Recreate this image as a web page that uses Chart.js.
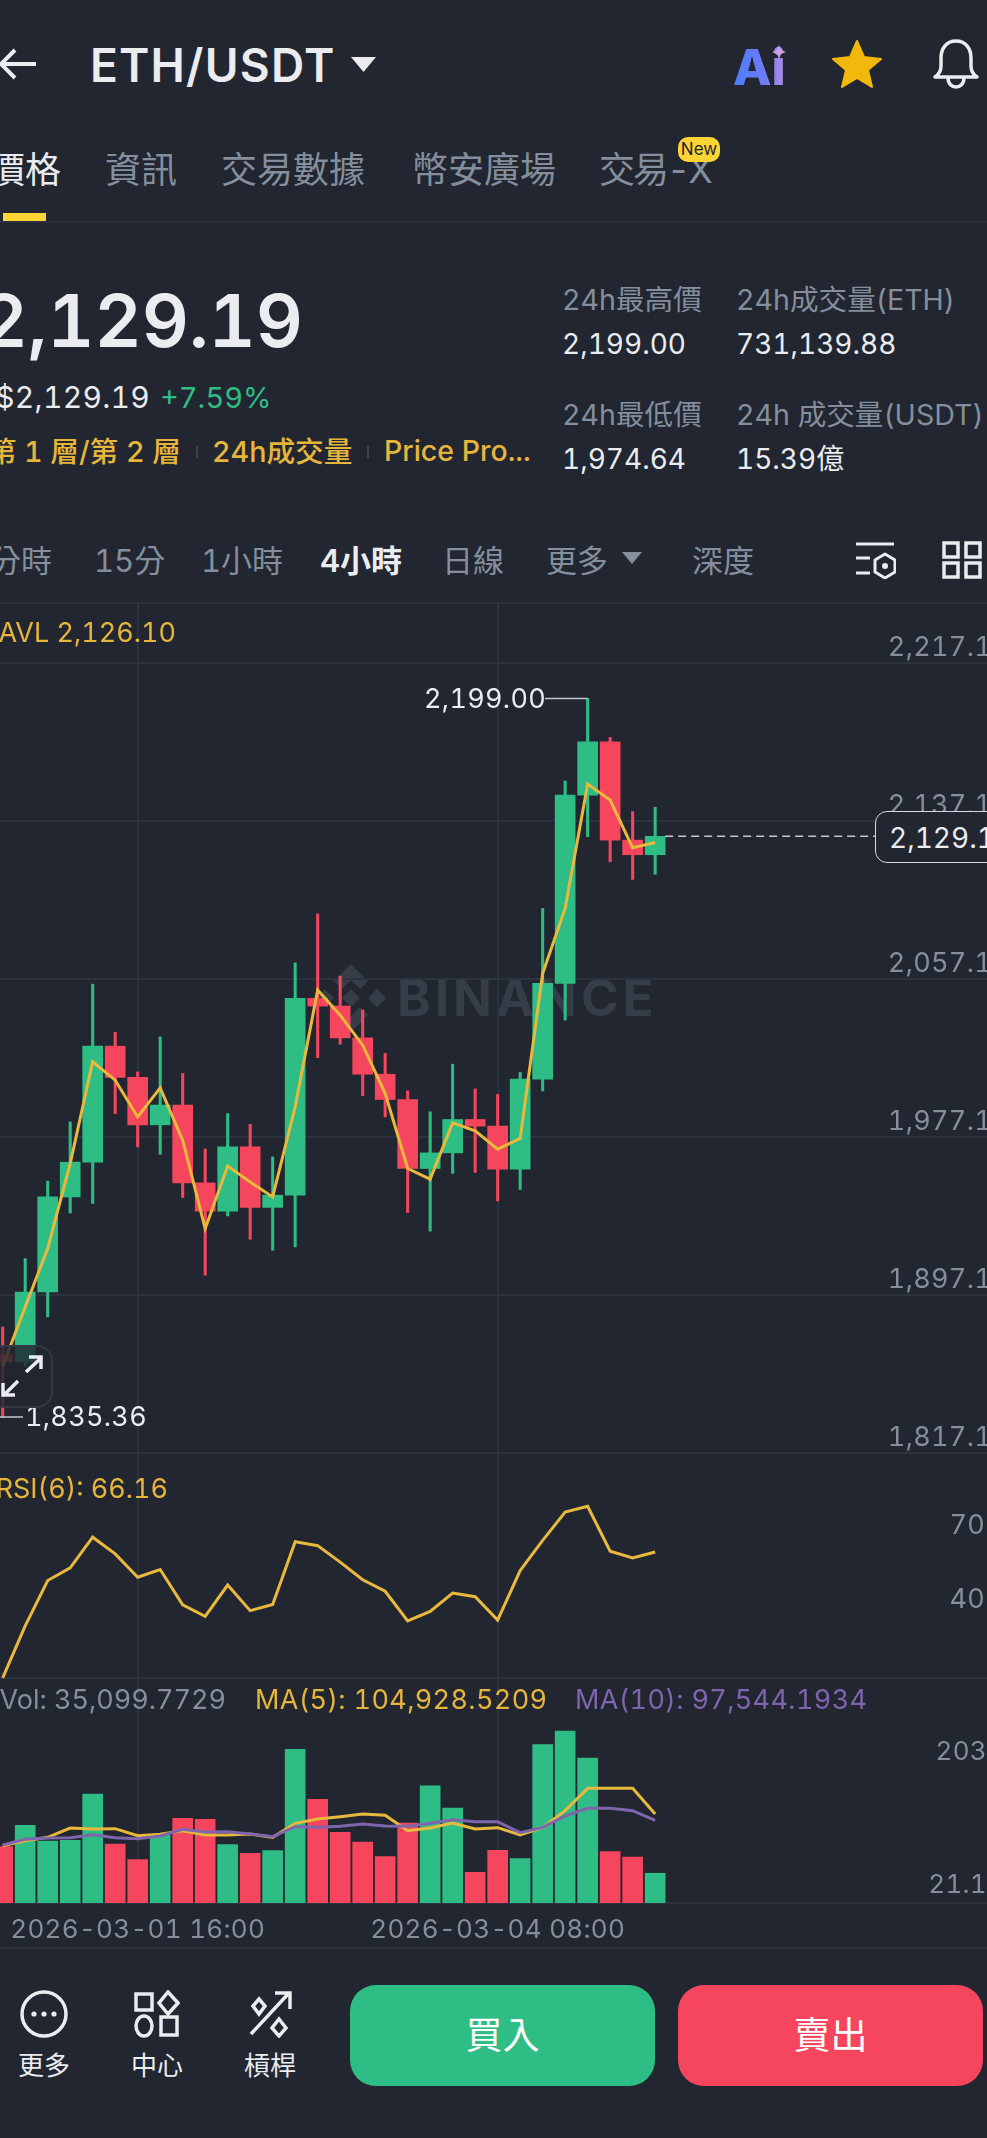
<!DOCTYPE html>
<html lang="zh-Hant">
<head>
<meta charset="utf-8">
<title>ETH/USDT</title>
<script src="https://cdn.jsdelivr.net/npm/chart.js@4"></script>
<style>
  html, body { margin: 0; padding: 0; background: #212630; overflow: hidden; }
  #page { position: relative; width: 987px; height: 2138px; overflow: hidden; background: #212630;
    font-family: Inter, "Noto Sans CJK TC", sans-serif; color: #848e9c; font-variant-numeric: tabular-nums; }
  #page > * { position: absolute; }
  .t { white-space: nowrap; line-height: 1; transform: translateY(-50%); }
  canvas { left: 0; display: block; }
  .line { left: 0; width: 987px; height: 2px; background: #2b313c; }
  .tab { font-size: 36px; color: #848e9c; }
  .iv { font-size: 31px; color: #848e9c; }
  .lab { font-size: 28.6px; color: #848e9c; }
  .val { font-size: 28px; color: #eaecef; }
  .gold { font-size: 28.7px; color: #e6b53c; font-weight: 500; }
  .ind { font-size: 27px; }
  .nav { font-size: 26px; color: #eaecef; text-align: center; width: 80px; }
  .btn { border-radius: 26px; color: #fff; font-size: 37px; text-align: center; line-height: 101px; height: 101px; width: 305px; top: 1985px; }
</style>
</head>
<body>
<div id="page">
  <!-- top bar -->
  <svg style="left:0;top:44px" width="40" height="40" viewBox="0 0 40 40" fill="none" stroke="#eaecef" stroke-width="4"><path d="M36 20H1M15 6L1 20l14 14"/></svg>
  <span class="t" style="left:90px;top:65px;font-size:46px;font-weight:600;color:#eaecef;letter-spacing:1.2px">ETH/USDT</span>
  <svg style="left:351px;top:57px" width="25" height="15"><polygon points="0,0 25,0 12.5,15" fill="#eaecef"/></svg>
  <svg style="left:733px;top:44px" width="58" height="44" viewBox="0 0 58 44">
    <defs><linearGradient id="aig" x1="0" x2="1" y1="0" y2="0"><stop offset="0" stop-color="#4d7dff"/><stop offset="0.6" stop-color="#6f7bf5"/><stop offset="1" stop-color="#b58be8"/></linearGradient></defs>
    <text x="0" y="41" font-family="Inter" font-weight="800" font-size="50" fill="url(#aig)">Ai</text>
    <path d="M46 1l2 5 5 2-5 2-2 5-2-5-5-2 5-2z" fill="#c9a0e0"/>
  </svg>
  <svg style="left:832px;top:39px" width="50" height="50" viewBox="0 0 50 50"><polygon points="25,2 32,18 49,20 36,31 40,48 25,39 10,48 14,31 1,20 18,18" fill="#f0b90b" stroke="#f0b90b" stroke-width="2" stroke-linejoin="round"/></svg>
  <svg style="left:932px;top:38px" width="48" height="52" viewBox="0 0 48 52" fill="none" stroke="#eaecef" stroke-width="3.5"><path d="M24 3c-10 0-15 8-15 17v8c0 5-3 9-6 11h42c-3-2-6-6-6-11v-8c0-9-5-17-15-17z" stroke-linejoin="round"/><path d="M16 40c0 6 4 9 8 9s8-3 8-9"/></svg>

  <!-- tabs -->
  <span class="t tab" style="left:-11px;top:170px;color:#eaecef">價格</span>
  <span class="t tab" style="left:105px;top:170px">資訊</span>
  <span class="t tab" style="left:221px;top:170px">交易數據</span>
  <span class="t tab" style="left:412px;top:170px">幣安廣場</span>
  <span class="t tab" style="left:599px;top:170px;letter-spacing:-2px">交易-X</span>
  <div style="left:678px;top:137px;width:42px;height:25px;border-radius:10px;background:#fcd535;color:#202630;font-size:17px;line-height:25px;text-align:center">New</div>
  <div style="left:3px;top:213px;width:43px;height:9px;background:#fcd535"></div>
  <div class="line" style="top:221px"></div>

  <!-- price block -->
  <span class="t" style="right:684px;top:320px;font-size:73px;font-weight:600;color:#eaecef">2,129.19</span>
  <span class="t" style="right:837px;top:397px;font-size:30px;color:#eaecef;letter-spacing:.3px">$2,129.19</span>
  <span class="t" style="left:160px;top:397px;font-size:29px;color:#2ebd85">+7.59%</span>
  <span class="t gold" style="right:806px;top:452px">第 1 層/第 2 層</span>
  <div style="left:196px;top:446px;width:2px;height:12px;background:#3a414d"></div>
  <span class="t gold" style="left:212px;top:452px">24h成交量</span>
  <div style="left:367px;top:446px;width:2px;height:12px;background:#3a414d"></div>
  <span class="t gold" style="left:384px;top:451px;font-size:28.5px">Price Pro...</span>
  <span class="t lab" style="left:562px;top:300px">24h最高價</span>
  <span class="t lab" style="left:736px;top:300px">24h成交量(ETH)</span>
  <span class="t val" style="left:562px;top:344px">2,199.00</span>
  <span class="t val" style="left:736px;top:344px">731,139.88</span>
  <span class="t lab" style="left:562px;top:415px">24h最低價</span>
  <span class="t lab" style="left:736px;top:415px">24h 成交量(USDT)</span>
  <span class="t val" style="left:562px;top:459px">1,974.64</span>
  <span class="t val" style="left:736px;top:459px">15.39億</span>

  <!-- interval row -->
  <span class="t iv" style="right:935px;top:560px">分時</span>
  <span class="t iv" style="left:94px;top:560px">15分</span>
  <span class="t iv" style="left:201px;top:560px">1小時</span>
  <span class="t iv" style="left:320px;top:560px;color:#eaecef;font-weight:600">4小時</span>
  <span class="t iv" style="left:442px;top:560px">日線</span>
  <span class="t iv" style="left:546px;top:560px">更多</span>
  <svg style="left:622px;top:552px" width="20" height="12"><polygon points="0,0 20,0 10,12" fill="#848e9c"/></svg>
  <span class="t iv" style="left:692px;top:560px">深度</span>
  <svg style="left:854px;top:541px" width="42" height="38" viewBox="0 0 42 38" fill="none" stroke="#eaecef" stroke-width="3"><path d="M2 3h38M2 17h14M2 32h14"/><path d="M31 13l10 6v12l-10 6-10-6V19z" stroke-linejoin="round"/><circle cx="31" cy="25" r="3" fill="#eaecef" stroke="none"/></svg>
  <svg style="left:942px;top:541px" width="40" height="38" viewBox="0 0 40 38" fill="none" stroke="#eaecef" stroke-width="3.5"><rect x="2" y="2" width="14" height="14"/><rect x="24" y="2" width="14" height="14"/><rect x="2" y="22" width="14" height="14"/><rect x="24" y="22" width="14" height="14"/></svg>
  <div class="line" style="top:602px"></div>

  <!-- watermark behind the charts -->
  <svg style="left:316px;top:962px" width="70" height="72" viewBox="0 0 70 72" fill="#363d48">
    <polygon points="35,2 52,19 44,27 35,18 26,27 18,19"/><polygon points="35,70 52,53 44,45 35,54 26,45 18,53"/>
    <polygon points="9,27 18,36 9,45 0,36"/><polygon points="61,27 70,36 61,45 52,36"/><polygon points="35,27 44,36 35,45 26,36"/>
  </svg>
  <span class="t" style="left:397px;top:997px;font-size:51px;font-weight:700;color:#363d48;letter-spacing:4px">BINANCE</span>

  <canvas id="priceChart" width="987" height="852" style="top:604px"></canvas>
  <canvas id="rsiChart" width="987" height="228" style="top:1453px"></canvas>
  <canvas id="volChart" width="987" height="271" style="top:1677px"></canvas>

  <span class="t ind" style="right:811px;top:632px;color:#e6b53c">AVL 2,126.10</span>
  <span class="t ind" style="right:819px;top:1488px;color:#e6b53c">RSI(6): 66.16</span>
  <span class="t ind" style="right:761px;top:1699px;color:#848e9c">Vol: 35,099.7729</span>
  <span class="t ind" style="left:255px;top:1699px;color:#e6b53c;letter-spacing:.35px">MA(5): 104,928.5209</span>
  <span class="t ind" style="left:575px;top:1699px;color:#7f65ad;letter-spacing:.35px">MA(10): 97,544.1934</span>

  <!-- last price pill -->
  <div style="left:875px;top:811px;width:140px;height:52px;box-sizing:border-box;border:1.5px solid #d5d8dc;border-radius:12px;background:#212630"></div>
  <span class="t" style="left:889px;top:838px;font-size:28px;color:#eaecef">2,129.19</span>

  <!-- expand button -->
  <div style="left:-12px;top:1345px;width:65px;height:63px;box-sizing:border-box;border:2px solid #323844;border-radius:16px;background:rgba(33,38,48,.82)"></div>
  <svg style="left:0;top:1354px" width="44" height="44" viewBox="0 0 44 44" fill="none" stroke="#eaecef" stroke-width="3.5"><path d="M26 18L41 4M29 3h12v12M18 27L4 41M3 29v12h12"/></svg>

  <div class="line" style="top:1947px"></div>

  <!-- bottom nav -->
  <svg style="left:20px;top:1990px" width="48" height="48" viewBox="0 0 48 48"><circle cx="24" cy="24" r="22" fill="none" stroke="#eaecef" stroke-width="3.5"/><circle cx="14" cy="24" r="2.6" fill="#eaecef"/><circle cx="24" cy="24" r="2.6" fill="#eaecef"/><circle cx="34" cy="24" r="2.6" fill="#eaecef"/></svg>
  <span class="t nav" style="left:4px;top:2066px">更多</span>
  <svg style="left:134px;top:1990px" width="46" height="48" viewBox="0 0 46 48" fill="none" stroke="#eaecef" stroke-width="3.5"><rect x="2" y="4" width="16" height="16"/><polygon points="34,2 44,13 34,24 25,13"/><ellipse cx="10" cy="36" rx="8" ry="10"/><rect x="27" y="27" width="16" height="18"/></svg>
  <span class="t nav" style="left:117px;top:2066px">中心</span>
  <svg style="left:249px;top:1990px" width="44" height="48" viewBox="0 0 44 48" fill="none" stroke="#eaecef" stroke-width="3.5"><path d="M2 44L40 3M26 3h15v16"/><polygon points="10,9 16,16 10,24 4,16"/><polygon points="30,29 37,38 30,46 23,38"/></svg>
  <span class="t nav" style="left:230px;top:2066px">槓桿</span>
  <div class="btn" style="left:350px;background:#2ebd85">買入</div>
  <div class="btn" style="left:678px;background:#f6465d">賣出</div>
</div>

<script>
// 4h candles
const opens = [1866.6, 1863.2, 1898.6, 1946.7, 1964.3, 2023.0, 2007.2, 1983.2, 1993.2, 1953.8, 1939.5, 1972.0, 1941.4, 1947.6, 2047.2, 2043.3, 2027.2, 2008.8, 1996.0, 1961.1, 1969.0, 1985.9, 1982.5, 1960.7, 2006.3, 2054.8, 2150.1, 2177.1, 2127.3, 2119.9];
const highs = [1880.9, 1915.5, 1954.7, 1984.7, 2054.4, 2030.0, 2010.0, 2027.7, 2009.2, 1970.9, 1988.9, 1983.5, 1967.0, 2065.2, 2089.9, 2058.5, 2041.3, 2019.3, 2000.4, 1989.8, 2013.9, 2001.4, 1998.6, 2009.7, 2092.7, 2157.2, 2199.0, 2179.3, 2141.7, 2143.9];
const lows = [1835.36, 1861.0, 1886.0, 1938.6, 1943.4, 1988.9, 1972.0, 1968.3, 1946.4, 1907.1, 1937.1, 1925.3, 1919.7, 1921.4, 2017.2, 2024.0, 1997.9, 1987.2, 1938.8, 1929.4, 1958.6, 1959.1, 1944.7, 1950.5, 2000.4, 2036.2, 2129.0, 2116.3, 2107.4, 2110.0];
const closes = [1863.2, 1898.6, 1946.7, 1964.3, 2023.0, 2007.2, 1983.2, 1993.2, 1953.8, 1939.5, 1972.0, 1941.4, 1947.6, 2047.2, 2043.3, 2027.2, 2008.8, 1996.0, 1961.1, 1969.0, 1985.9, 1982.5, 1960.7, 2006.3, 2054.8, 2150.1, 2177.1, 2127.3, 2119.9, 2129.19];
const avlValues = [1861.0, 1891.0, 1920.6, 1963.6, 2015.1, 2005.8, 1987.2, 2001.9, 1975.4, 1930.7, 1962.3, 1954.3, 1946.7, 1992.3, 2051.4, 2038.7, 2023.5, 1999.1, 1961.1, 1955.7, 1984.2, 1980.1, 1970.9, 1976.3, 2059.8, 2092.7, 2155.7, 2147.6, 2123.4, 2126.1];
const rsiValues = [15.6, 36.5, 54.7, 59.8, 72.1, 65.4, 56.0, 59.1, 44.9, 40.3, 52.9, 42.6, 45.1, 70.3, 68.7, 62.1, 55.0, 50.4, 38.5, 42.3, 49.7, 48.2, 38.8, 58.7, 70.8, 82.2, 84.5, 66.5, 63.8, 66.16];
const volValues = [66500, 91640, 73160, 73940, 128600, 69600, 51130, 80200, 99900, 98700, 68800, 58600, 61750, 181300, 122300, 83400, 72000, 54700, 94400, 138400, 112100, 36200, 62100, 52300, 186800, 203000, 171100, 60600, 54300, 35099.77];
const ma5Values = [67650, 73550, 77480, 88490, 87310, 87710, 79450, 81020, 85350, 80230, 80230, 81410, 77480, 94000, 99110, 101860, 105010, 103440, 85350, 88490, 94390, 87310, 88890, 80230, 89280, 108940, 135300, 135300, 135300, 104928.52];
const ma10Values = [68430, 75120, 76690, 77090, 80630, 77090, 75910, 79050, 86920, 83770, 84170, 81410, 78270, 90070, 89280, 90460, 93210, 90850, 90460, 94000, 98330, 95970, 95970, 82990, 89280, 102650, 111700, 111700, 108940, 97544.19];

const priceTicks = [1817.1, 1897.1, 1977.1, 2057.1, 2137.1, 2217.1];
const rsiTicks = [40, 70];
const volTicks = [21100, 178500];
const volTickLabels = ['21.1', '203'];
const dateTicks = [6, 22];
const dateLabels = ['2026-03-01 16:00', '2026-03-04 08:00'];

const GREEN = '#2ebd85';
const RED = '#f6465d';
const GRID = '#2c333f';
const AXIS_TEXT = '#848e9c';
const FONT = 'Inter';

const isUp = closes.map((c, i) => c >= opens[i]);
const upDownColors = isUp.map(up => up ? GREEN : RED);
const points = values => values.map((v, i) => ({ x: i, y: v }));

function xAxis(showDates) {
  return {
    type: 'linear',
    offset: false,
    min: -0.12,
    max: 43.75,
    afterBuildTicks: scale => { scale.ticks = dateTicks.map(v => ({ value: v })); },
    afterFit: scale => { scale.height = showDates ? 45 : 0; scale.paddingLeft = 0; scale.paddingRight = 0; },
    grid: { color: GRID, lineWidth: 2, drawTicks: false, offset: false },
    border: { display: true, color: GRID, width: 2 },
    ticks: showDates ? {
      autoSkip: false, maxRotation: 0, padding: 12, color: AXIS_TEXT,
      font: { family: FONT, size: 26 },
      callback: v => dateLabels[dateTicks.indexOf(v)]
    } : { display: false }
  };
}

function yAxis(min, max, tickValues, callback, labelOffset, padding, showGrid, fontSize) {
  return {
    position: 'right',
    min: min,
    max: max,
    afterBuildTicks: scale => { scale.ticks = tickValues.map(v => ({ value: v })); },
    // keep the chart area at the full canvas, labels sit inside it
    afterFit: scale => { scale.width = 0; scale.paddingTop = 0; scale.paddingBottom = 0; },
    grid: { display: showGrid, color: GRID, lineWidth: 2, drawTicks: false },
    border: { display: false },
    ticks: {
      mirror: true, autoSkip: false, padding: padding, labelOffset: labelOffset,
      color: AXIS_TEXT, font: { family: FONT, size: fontSize }, callback: callback
    }
  };
}

function baseOptions(scales, bottomPad) {
  return {
    responsive: false,
    animation: false,
    layout: { autoPadding: false, padding: { left: 0, right: 0, top: 0, bottom: bottomPad } },
    plugins: { legend: { display: false }, tooltip: { enabled: false } },
    scales: scales
  };
}

function lineSet(values, color, width, order) {
  return {
    type: 'line', data: points(values), borderColor: color, borderWidth: width,
    pointRadius: 0, tension: 0, clip: false, order: order
  };
}

// canvas text has no tabular digits, so widen it a little
function spacing(px) {
  return { id: 'spacing', beforeDraw(chart) { chart.ctx.letterSpacing = px + 'px'; } };
}

// high / low leaders and the dashed last price line
const priceMarks = {
  id: 'priceMarks',
  afterDatasetsDraw(chart) {
    const { ctx, scales: { x, y } } = chart;
    const hi = highs.indexOf(Math.max(...highs));
    const lo = lows.indexOf(Math.min(...lows));
    const hiY = y.getPixelForValue(highs[hi]);
    const loY = y.getPixelForValue(lows[lo]);
    const lastY = y.getPixelForValue(closes[closes.length - 1]);
    ctx.save();
    ctx.strokeStyle = '#c4c8ce';
    ctx.lineWidth = 1.5;
    ctx.beginPath();
    ctx.moveTo(545, hiY);
    ctx.lineTo(x.getPixelForValue(hi), hiY);
    ctx.moveTo(0, loY);
    ctx.lineTo(23, loY);
    ctx.stroke();
    ctx.setLineDash([8, 5]);
    ctx.beginPath();
    ctx.moveTo(x.getPixelForValue(closes.length - 1) + 10, lastY);
    ctx.lineTo(880, lastY);
    ctx.stroke();
    ctx.fillStyle = '#eaecef';
    ctx.font = '27px ' + FONT;
    ctx.textBaseline = 'middle';
    ctx.textAlign = 'right';
    ctx.fillText(highs[hi].toFixed(2).replace('2199', '2,199'), 546, hiY + 1);
    ctx.textAlign = 'left';
    ctx.fillText(lows[lo].toFixed(2).replace('1835', '1,835'), 25, loY + 1);
    ctx.restore();
  }
};

new Chart(document.getElementById('priceChart'), {
  type: 'bar',
  data: {
    datasets: [
      lineSet(avlValues, '#e8b93c', 3, 0),
      {
        data: opens.map((o, i) => ({ x: i, y: [o, closes[i]] })),
        backgroundColor: upDownColors, barThickness: 20, grouped: false, order: 1
      },
      {
        data: lows.map((l, i) => ({ x: i, y: [l, highs[i]] })),
        backgroundColor: upDownColors, barThickness: 2.4, grouped: false, order: 2
      }
    ]
  },
  options: baseOptions({
    x: xAxis(false),
    y: yAxis(1817.1, 2246.8, priceTicks,
      v => v.toLocaleString('en-US', { minimumFractionDigits: 1, maximumFractionDigits: 1 }), -15, 5, true, 27)
  }, 3),
  plugins: [spacing(0.3), priceMarks]
});

new Chart(document.getElementById('rsiChart'), {
  type: 'line',
  data: { datasets: [lineSet(rsiValues, '#e8b93c', 3, 0)] },
  options: baseOptions({
    x: xAxis(false),
    y: yAxis(15.56, 105.9, rsiTicks, v => String(v), -17, -2, false, 27)
  }, 3),
  plugins: [spacing(0.3)]
});

new Chart(document.getElementById('volChart'), {
  type: 'bar',
  data: {
    datasets: [
      lineSet(ma5Values, '#e8b93c', 3, 1),
      lineSet(ma10Values, '#7f65ad', 3, 0),
      { data: points(volValues), backgroundColor: upDownColors, barThickness: 20, order: 2 }
    ]
  },
  options: baseOptions({
    x: xAxis(true),
    y: yAxis(0, 266680, volTicks, v => volTickLabels[volTicks.indexOf(v)], 0, 0, false, 26)
  }, 0),
  plugins: [spacing(0.3)]
});
</script>
</body>
</html>
